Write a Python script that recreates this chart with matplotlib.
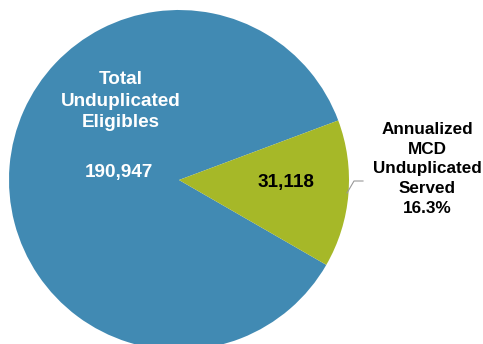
import matplotlib
matplotlib.use("Agg")
import matplotlib.pyplot as plt

# datos del gráfico
categorias = ["Total\nUnduplicated\nEligibles", "Annualized\nMCD\nUnduplicated\nServed"]
valores = [190947, 31118]
colores = ["#418AB3", "#A6B828"]

pct = valores[1] / valores[0]

plt.rcParams["font.family"] = ["Liberation Sans", "DejaVu Sans"]

fig = plt.figure(figsize=(4.83, 3.44), dpi=100)
ax = fig.add_axes([0, 0, 1, 1])

# pie in pixel-like coordinates (y up)
cx, cy, r = 179, 164, 170
ax.pie(valores, colors=colores, startangle=20.5, counterclock=True,
       center=(cx, cy), radius=r, wedgeprops=dict(linewidth=0))
ax.set_xlim(0, 483)
ax.set_ylim(0, 344)
ax.set_aspect("equal")
ax.axis("off")

ax.text(121, 344 - 101, categorias[0], ha="center", va="center", color="white",
        fontsize=13.6, fontweight="bold", linespacing=1.36)
ax.text(119, 344 - 173, f"{valores[0]:,}", ha="center", va="center", color="white",
        fontsize=13.6, fontweight="bold")
ax.text(286, 344 - 182, f"{valores[1]:,}", ha="center", va="center", color="black",
        fontsize=13.6, fontweight="bold")
ax.text(427, 344 - 169, categorias[1] + f"\n{pct:.1%}", ha="center", va="center",
        color="black", fontsize=12.3, fontweight="bold", linespacing=1.38)

# leader line
ax.plot([347, 354, 363], [344 - 193, 344 - 181, 344 - 181], color="#999999", lw=0.8)

fig.savefig("out.png", dpi=100)
